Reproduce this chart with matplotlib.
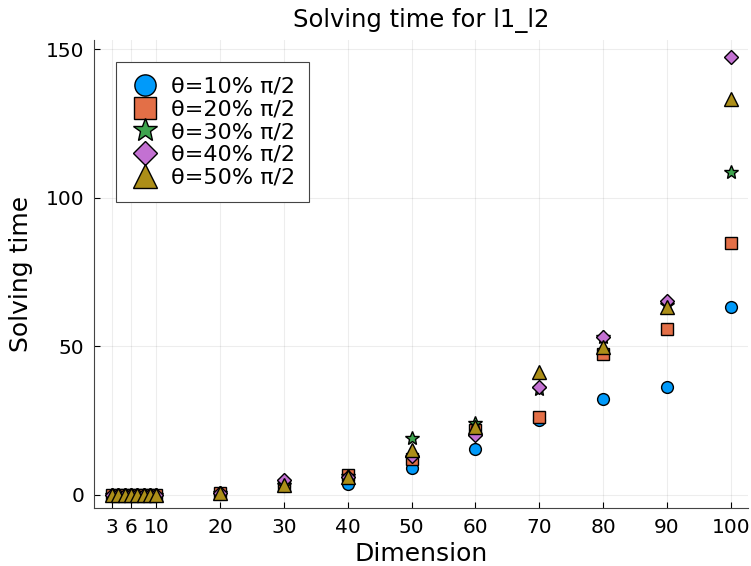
import matplotlib.pyplot as plt
import numpy as np

# dimensions tested
dims = [3, 4, 5, 6, 7, 8, 9, 10, 20, 30, 40, 50, 60, 70, 80, 90, 100]

# solving time per theta
t_10 = [0.05, 0.05, 0.05, 0.05, 0.05, 0.05, 0.05, 0.1, 0.4, 3.0, 3.7, 9.2, 15.5, 25.2, 32.4, 36.2, 63.3]
t_20 = [0.05, 0.05, 0.05, 0.05, 0.05, 0.05, 0.1, 0.1, 0.5, 3.5, 6.7, 12.1, 21.9, 26.3, 47.4, 55.8, 84.7]
t_30 = [0.05, 0.05, 0.05, 0.05, 0.05, 0.05, 0.1, 0.1, 0.5, 3.5, 6.5, 19.1, 24.2, 35.6, 53.0, 64.0, 108.7]
t_40 = [0.05, 0.05, 0.05, 0.05, 0.05, 0.05, 0.1, 0.1, 0.6, 5.0, 6.0, 13.0, 20.2, 36.3, 53.2, 65.3, 147.5]
t_50 = [0.05, 0.05, 0.05, 0.05, 0.05, 0.05, 0.1, 0.1, 0.5, 3.4, 6.2, 15.1, 23.0, 41.5, 49.9, 63.2, 133.4]

labels = ['θ=10% π/2', 'θ=20% π/2', 'θ=30% π/2', 'θ=40% π/2', 'θ=50% π/2']
series = [t_10, t_20, t_30, t_40, t_50]
colors = ['#009AFA', '#E36F47', '#3EA44E', '#C371D2', '#AC8E18']
markers = ['o', 's', '*', 'D', '^']
sizes = [8.5, 8.5, 10, 7, 9.5]

xticks = [3, 6, 10, 20, 30, 40, 50, 60, 70, 80, 90, 100]
yticks = [0, 50, 100, 150]

fig = plt.figure(figsize=(7.51, 5.66), dpi=100)
ax = fig.add_axes([0.125, 0.1025, 0.871, 0.826])

for ys, lab, c, m, s in zip(series, labels, colors, markers, sizes):
    ax.plot(dims, ys, linestyle='none', marker=m, markersize=s,
            markerfacecolor=c, markeredgecolor='black', markeredgewidth=1.0,
            label=lab)

ax.set_xlim(0.2, 102.7)
ax.set_ylim(-4.4, 153)
ax.set_xticks(xticks)
ax.set_yticks(yticks)
ax.tick_params(direction='in', length=4, width=0.8, labelsize=14.5, colors='black', pad=7)
ax.grid(True, color='black', alpha=0.07, linewidth=0.8)
ax.set_axisbelow(True)
for side in ['top', 'right']:
    ax.spines[side].set_visible(False)
for side in ['left', 'bottom']:
    ax.spines[side].set_color('#444444')

ax.set_title('Solving time for l1_l2', fontsize=17.5, pad=10)
ax.set_xlabel('Dimension', fontsize=18, labelpad=4)
ax.set_ylabel('Solving time', fontsize=18, labelpad=9)

leg = ax.legend(loc='upper left', bbox_to_anchor=(0.034, 0.953), fontsize=16,
                markerscale=1.8, fancybox=False, framealpha=1, edgecolor='#444444',
                handlelength=1.3, handletextpad=0.5, labelspacing=0.12,
                borderpad=0.65, borderaxespad=0)
leg.get_frame().set_linewidth(0.8)

plt.savefig('out.png', dpi=100)
